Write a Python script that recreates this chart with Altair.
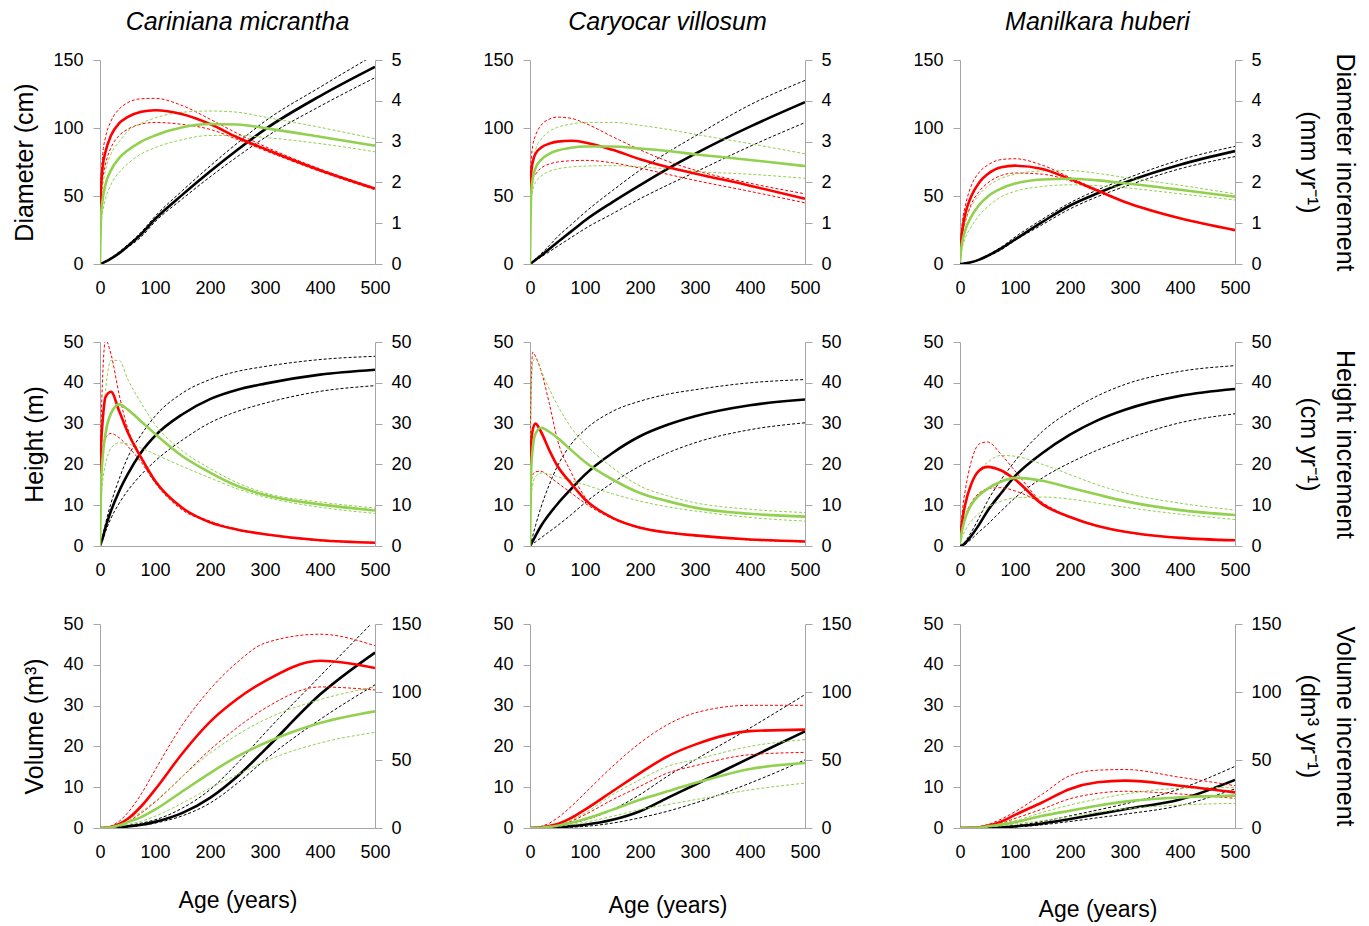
import altair as alt
import pandas as pd

AGE = [0, 2, 5, 10, 20, 35, 50, 75, 100, 150, 200, 250, 300, 400, 500]
SPECIES = ["Cariniana micrantha", "Caryocar villosum", "Manilkara huberi"]
X_TICKS = [0, 100, 200, 300, 400, 500]

# ---- Diameter row: cumulative (cm, left) and increments (mm/yr, right)
D_CM = {
    "cum_lo": [0, 0.3, 0.8, 1.7, 3.8, 7.5, 12, 20, 31, 48, 64, 79, 93, 116, 137],
    "cum_hi": [0, 0.3, 0.9, 2, 4.5, 9, 14, 23.5, 35, 54, 72, 89, 105, 130, 154],
    "cum": [0, 0.3, 0.8, 1.8, 4, 8, 13, 22, 33, 51, 68, 84, 99, 123.5, 145],
    "red_lo": [1.2, 1.7, 2.1, 2.45, 2.85, 3.15, 3.3, 3.43, 3.47, 3.42, 3.3, 3.05, 2.78, 2.27, 1.82],
    "red_hi": [1.2, 2.1, 2.7, 3.1, 3.5, 3.8, 3.95, 4.05, 4.06, 3.88, 3.55, 3.2, 2.88, 2.33, 1.87],
    "grn_lo": [0, 1.0, 1.3, 1.6, 1.95, 2.25, 2.45, 2.7, 2.85, 3.05, 3.15, 3.15, 3.1, 2.95, 2.75],
    "grn_hi": [0, 1.4, 1.9, 2.3, 2.7, 3.0, 3.25, 3.45, 3.58, 3.72, 3.75, 3.72, 3.6, 3.35, 3.07],
    "red": [1.2, 1.9, 2.4, 2.75, 3.15, 3.45, 3.6, 3.73, 3.77, 3.67, 3.43, 3.1, 2.82, 2.3, 1.85],
    "grn": [0, 1.2, 1.6, 1.95, 2.3, 2.6, 2.78, 3.0, 3.15, 3.35, 3.43, 3.42, 3.33, 3.12, 2.9],
}
D_CV = {
    "cum_lo": [0, 0.5, 1.3, 2.6, 5.2, 9, 13, 19.5, 26, 37, 48, 58, 67.5, 86.5, 104],
    "cum_hi": [0, 0.8, 2, 3.8, 7.5, 13.5, 20, 29, 38, 54, 69, 82, 94, 117, 135],
    "cum": [0, 0.6, 1.5, 3, 6, 11, 16, 24, 32, 45.5, 58, 70, 81, 101, 119],
    "red_lo": [1.6, 1.9, 2.1, 2.2, 2.35, 2.45, 2.5, 2.53, 2.54, 2.48, 2.35, 2.2, 2.05, 1.78, 1.5],
    "red_hi": [1.6, 2.5, 2.9, 3.15, 3.4, 3.55, 3.6, 3.57, 3.45, 3.12, 2.8, 2.52, 2.3, 1.98, 1.72],
    "grn_lo": [0, 1.5, 1.8, 2.0, 2.15, 2.27, 2.33, 2.38, 2.4, 2.41, 2.38, 2.33, 2.27, 2.2, 2.1],
    "grn_hi": [0, 2.0, 2.5, 2.8, 3.05, 3.25, 3.35, 3.43, 3.47, 3.47, 3.4, 3.3, 3.18, 2.95, 2.7],
    "red": [1.6, 2.2, 2.5, 2.7, 2.85, 2.95, 3.0, 3.02, 2.98, 2.8, 2.57, 2.38, 2.22, 1.92, 1.6],
    "grn": [0, 1.7, 2.1, 2.35, 2.55, 2.7, 2.78, 2.85, 2.88, 2.88, 2.83, 2.77, 2.69, 2.55, 2.4],
}
D_MH = {
    "cum_lo": [0, 0.05, 0.2, 0.45, 1.2, 3, 5.5, 10.5, 17.3, 29, 40.5, 49.5, 57, 70, 79],
    "cum_hi": [0, 0.05, 0.2, 0.55, 1.4, 3.5, 6.5, 12.5, 19.8, 33, 45, 54.5, 62.5, 76.5, 86.5],
    "cum": [0, 0.05, 0.2, 0.5, 1.3, 3.2, 6, 11.5, 18, 31, 43, 52, 60, 73, 83],
    "red_lo": [0.2, 0.45, 0.75, 1.05, 1.45, 1.78, 1.98, 2.17, 2.23, 2.2, 2.04, 1.78, 1.51, 1.12, 0.83],
    "red_hi": [0.2, 0.7, 1.1, 1.45, 1.9, 2.25, 2.42, 2.56, 2.58, 2.42, 2.12, 1.82, 1.53, 1.12, 0.83],
    "grn_lo": [0.05, 0.25, 0.45, 0.65, 0.9, 1.2, 1.4, 1.65, 1.78, 1.9, 1.94, 1.92, 1.87, 1.72, 1.57],
    "grn_hi": [0.05, 0.45, 0.75, 1.05, 1.4, 1.7, 1.9, 2.1, 2.2, 2.28, 2.29, 2.22, 2.12, 1.93, 1.72],
    "red": [0.2, 0.55, 0.9, 1.25, 1.65, 2.0, 2.2, 2.37, 2.41, 2.33, 2.08, 1.8, 1.52, 1.12, 0.83],
    "grn": [0.05, 0.35, 0.6, 0.85, 1.15, 1.45, 1.65, 1.85, 1.97, 2.07, 2.09, 2.05, 1.98, 1.82, 1.65],
}

# ---- Height row: cumulative (m, left) and increments (cm/yr, right)
H_CM = {
    "cum_lo": [0, 0.6, 1.6, 3.5, 6.8, 10.5, 13.5, 17.5, 20.8, 26, 30.2, 33, 35, 37.9, 39.3],
    "cum_hi": [0, 1, 2.6, 5.5, 10.5, 16.5, 21.6, 27.3, 31.8, 37.5, 40.8, 42.8, 44, 45.7, 46.5],
    "cum": [0, 0.8, 2, 4.5, 8.6, 13.5, 17.5, 23, 27, 32.3, 36, 38.3, 39.8, 42, 43.2],
    "red_lo": [18, 21, 24, 26.5, 27.6, 26.5, 24.5, 20.5, 15.5, 8.8, 5.9, 3.9, 2.8, 1.3, 0.8],
    "red_hi": [18, 30, 42, 50.5, 47, 37, 29, 22, 16.3, 9.2, 6.1, 4.1, 2.9, 1.4, 0.9],
    "grn_lo": [0, 11, 16, 20, 24, 25.3, 25, 24, 22.5, 19.5, 16.7, 14, 12, 9.5, 8],
    "grn_hi": [0, 20, 30, 38, 45.5, 45.5, 41, 35, 29.8, 23.3, 19, 15.5, 13, 10.8, 9.3],
    "red": [18, 25, 31, 36.5, 37.8, 33, 28, 21.6, 16, 9.3, 5.8, 4, 2.9, 1.4, 0.8],
    "grn": [0, 15, 22, 27.5, 32.5, 34.7, 33.5, 30.5, 27.5, 22, 18, 14.7, 12.5, 10.2, 8.7],
}
H_CV = {
    "cum_lo": [0, 0.2, 0.5, 1, 2, 3.5, 5, 7.7, 10.6, 15.5, 19.6, 22.8, 25.3, 28.5, 30.2],
    "cum_hi": [0, 1, 2.5, 5, 9.5, 15, 19.6, 25, 28.5, 33, 35.5, 37.2, 38.3, 40, 40.8],
    "cum": [0, 0.5, 1.2, 2.5, 4.9, 7.8, 10.3, 14, 17.5, 22.8, 26.9, 29.7, 31.8, 34.5, 35.9],
    "red_lo": [15, 16, 17.5, 18.2, 18.3, 17, 15.5, 13, 10.5, 6.7, 4.4, 3.2, 2.5, 1.5, 1.0],
    "red_hi": [20, 38, 47.5, 46.5, 43, 35, 26, 18, 12, 7, 4.6, 3.4, 2.6, 1.6, 1.1],
    "grn_lo": [0, 12, 15, 17, 17.9, 17.6, 17, 16, 15, 12.8, 11, 9.6, 8.6, 7, 6.1],
    "grn_hi": [0, 35, 45, 46, 43, 38.5, 34.5, 29, 25, 19.2, 14.7, 12.3, 10.6, 9, 8.2],
    "red": [20, 25, 28.5, 30, 28, 23.5, 19.6, 15.3, 11.4, 6.9, 4.5, 3.3, 2.6, 1.6, 1.1],
    "grn": [0, 18, 24, 27.5, 29, 28, 26.5, 23.5, 20.6, 16.3, 13, 11, 9.4, 7.9, 7.2],
}
H_MH = {
    "cum_lo": [0, 0.03, 0.15, 0.5, 1.6, 3.5, 5.3, 8.6, 11.8, 16.7, 20.4, 23.5, 26.1, 30.2, 32.4],
    "cum_hi": [0, 0.05, 0.3, 1.2, 3.3, 7, 11, 16.3, 20.8, 28.1, 33, 36.8, 39.6, 42.8, 44.2],
    "cum": [0, 0.05, 0.2, 0.8, 2.4, 5.3, 8.6, 13, 17.1, 22.8, 27.3, 30.8, 33.4, 36.8, 38.5],
    "red_lo": [2, 3.2, 5, 7.5, 10.5, 13, 14, 14.3, 13.5, 10.5, 7, 4.8, 3.4, 2, 1.4],
    "red_hi": [2, 5, 9.5, 14, 20.5, 25, 25.5, 22.4, 18.4, 10.6, 7.2, 5, 3.5, 2, 1.4],
    "grn_lo": [0.5, 1.5, 2.5, 4, 6, 8, 9.5, 11, 11.8, 12, 11.5, 10.5, 9.5, 7.8, 6.5],
    "grn_hi": [0.5, 3.5, 6.5, 10, 15, 18.5, 20.5, 22.2, 22, 20, 17.5, 15, 13, 10.5, 8.8],
    "red": [2, 4, 7, 10.5, 15, 18.5, 19.4, 18.5, 16.3, 10.2, 7.1, 4.9, 3.5, 2, 1.4],
    "grn": [0.5, 2.5, 4.5, 7, 10, 12.5, 14, 15.8, 16.7, 16, 14.3, 12.6, 11, 8.8, 7.6],
}

# ---- Volume row: cumulative (m3, left) and increments (dm3/yr, right)
V_CM = {
    "cum_lo": [0, 0, 0, 0, 0.03, 0.1, 0.3, 0.6, 1.2, 3, 6.1, 11, 16.7, 26.6, 35.1],
    "cum_hi": [0, 0, 0, 0, 0.05, 0.3, 0.6, 1.2, 2, 4.9, 9.4, 15.9, 23.3, 37.2, 51],
    "cum": [0, 0, 0, 0, 0.05, 0.15, 0.4, 0.8, 1.5, 3.7, 7.4, 12.7, 19.2, 32.7, 43],
    "red_lo": [0, 0, 0, 0.1, 0.5, 2, 4.5, 11, 19, 38, 57.5, 74, 88, 103.7, 101.5],
    "red_hi": [0, 0, 0, 0.3, 1.5, 5, 11, 25, 42.5, 76, 102, 122, 136, 142.5, 134],
    "grn_lo": [0, 0, 0, 0.05, 0.3, 1.2, 2.5, 5, 8.6, 18.4, 29.4, 39.2, 49, 62.5, 70.3],
    "grn_hi": [0, 0, 0, 0.1, 0.6, 2.5, 6, 12, 19.6, 38, 55, 68.6, 79.7, 94.4, 103.7],
    "red": [0, 0, 0, 0.2, 0.8, 3, 6.6, 16, 28.2, 55, 78, 95, 108, 123, 117.6],
    "grn": [0, 0, 0, 0.1, 0.5, 2, 4.2, 8, 13.5, 27, 40.4, 52.7, 62.5, 77.2, 85.8],
}
V_CV = {
    "cum_lo": [0, 0, 0, 0, 0, 0.05, 0.1, 0.2, 0.4, 1.2, 2.5, 4.1, 6.1, 11, 16.7],
    "cum_hi": [0, 0, 0, 0, 0.05, 0.2, 0.6, 1.2, 2, 4.5, 8.2, 12.7, 16.7, 24.5, 32.7],
    "cum": [0, 0, 0, 0, 0, 0.05, 0.2, 0.45, 0.8, 2, 4.1, 7.4, 10.6, 17.2, 23.7],
    "red_lo": [0, 0, 0, 0.05, 0.2, 0.8, 1.7, 5, 9.8, 20.8, 30.6, 40.4, 45.8, 53.9, 55.6],
    "red_hi": [0, 0, 0, 0.2, 1.2, 3.5, 7.4, 15.9, 25.7, 45.3, 62.5, 76, 84.6, 90.2, 90.2],
    "grn_lo": [0, 0, 0, 0.02, 0.1, 0.5, 1.2, 2.5, 4.2, 8.6, 13.5, 17.2, 20.8, 28, 33],
    "grn_hi": [0, 0, 0, 0.05, 0.3, 1.2, 2.5, 6, 11, 24.5, 35.5, 45.3, 50.2, 60, 65],
    "red": [0, 0, 0, 0.1, 0.5, 1.5, 2.9, 7.4, 13.5, 27, 40.4, 52.7, 61.3, 71.2, 72.3],
    "grn": [0, 0, 0, 0.05, 0.2, 0.8, 1.7, 3.8, 6.6, 13.5, 20.8, 27, 33, 43.4, 47.8],
}
V_MH = {
    "cum_lo": [0, 0, 0, 0, 0, 0, 0.03, 0.1, 0.25, 0.8, 1.6, 2.5, 3.4, 5.5, 9.6],
    "cum_hi": [0, 0, 0, 0, 0, 0, 0.1, 0.3, 0.6, 1.6, 3, 4.4, 5.9, 9.6, 15.1],
    "cum": [0, 0, 0, 0, 0, 0, 0.05, 0.15, 0.4, 1.1, 2.2, 3.4, 4.6, 7, 11.8],
    "red_lo": [0, 0, 0, 0, 0.05, 0.4, 1, 3.5, 7, 14, 21.5, 25.5, 27, 25, 21.8],
    "red_hi": [0, 0, 0, 0, 0.2, 0.9, 2.5, 6.5, 12, 25, 38.5, 42.5, 43, 37.3, 31.1],
    "grn_lo": [0, 0, 0, 0, 0.02, 0.2, 0.7, 1.6, 2.9, 5.4, 8.6, 11.5, 14, 16.9, 18.1],
    "grn_hi": [0, 0, 0, 0, 0.1, 0.6, 1.7, 3.5, 5.4, 11.5, 16.9, 21.3, 25, 29.2, 29.9],
    "red": [0, 0, 0, 0, 0.1, 0.6, 1.7, 4.7, 9.6, 18.9, 28.7, 33.6, 34.8, 31.1, 26.2],
    "grn": [0, 0, 0, 0, 0.05, 0.4, 1.2, 2.5, 4.2, 9, 12.7, 16.4, 19.4, 22.5, 23.8],
}

PANELS = [[D_CM, D_CV, D_MH], [H_CM, H_CV, H_MH], [V_CM, V_CV, V_MH]]
LEFT_TITLES = ["Diameter (cm)", "Height (m)", "Volume (m³)"]
RIGHT_TITLES = [["Diameter increment", "(mm yr⁻¹)"],
                ["Height increment", "(cm yr⁻¹)"],
                ["Volume increment", "(dm³ yr⁻¹)"]]
LEFT_MAX = [150, 50, 50]
LEFT_TICKS = [[0, 50, 100, 150], [0, 10, 20, 30, 40, 50], [0, 10, 20, 30, 40, 50]]
RIGHT_MAX = [5, 50, 150]
RIGHT_TICKS = [[0, 1, 2, 3, 4, 5], [0, 10, 20, 30, 40, 50], [0, 50, 100, 150]]
XTITLE_PAD = [28, 33, 37]
RTITLE_PAD = [34, 24, 14]
HSPACE = [80, 80, 70]

RED = "#ff0000"
GREEN = "#92d050"
BLACK = "#000000"
FONT = "Liberation Sans"
GREY = "#a6a6a6"

STYLE = {
    "cum_lo": (BLACK, 1.0, [3, 2]), "cum_hi": (BLACK, 1.0, [3, 2]), "cum": (BLACK, 2.6, None),
    "red_lo": (RED, 1.0, [3, 2]), "red_hi": (RED, 1.0, [3, 2]),
    "grn_lo": (GREEN, 1.0, [3, 2]), "grn_hi": (GREEN, 1.0, [3, 2]),
    "red": (RED, 2.6, None), "grn": (GREEN, 2.6, None),
}


def panel(r, c):
    p = PANELS[r][c]
    xaxis = alt.Axis(values=X_TICKS, ticks=False, grid=False, labelFlush=False,
                     title="Age (years)" if r == 2 else None,
                     titlePadding=XTITLE_PAD[c], labelPadding=15, titleFontSize=23)
    lscale = alt.Scale(domain=[0, LEFT_MAX[r]], nice=False, zero=True)
    rscale = alt.Scale(domain=[0, RIGHT_MAX[r]], nice=False, zero=True)
    laxis = alt.Axis(values=LEFT_TICKS[r], orient="left", grid=False, labelPadding=10,
                     labelFlush=False,
                     title=LEFT_TITLES[r] if c == 0 else None, titlePadding=15)
    raxis = alt.Axis(values=RIGHT_TICKS[r], orient="right", grid=False, labelPadding=9,
                     labelFlush=False,
                     title=RIGHT_TITLES[r] if c == 2 else None, titlePadding=RTITLE_PAD[r],
                     titleLineHeight=36)
    left_layers, right_layers = [], []
    for key, vals in p.items():
        color, width, dash = STYLE[key]
        df = pd.DataFrame({"age": AGE, "v": vals})
        mk = dict(color=color, strokeWidth=width, interpolate="monotone", clip=True)
        if dash:
            mk["strokeDash"] = dash
        is_left = key.startswith("cum")
        ch = alt.Chart(df).mark_line(**mk).encode(
            x=alt.X("age:Q", scale=alt.Scale(domain=[0, 500], nice=False), axis=xaxis),
            y=alt.Y("v:Q", scale=lscale if is_left else rscale,
                    axis=laxis if is_left else raxis),
        )
        (left_layers if is_left else right_layers).append(ch)
    lay = alt.layer(alt.layer(*left_layers), alt.layer(*right_layers)).resolve_scale(y="independent")
    props = dict(width=275, height=204)
    if r == 0:
        props["title"] = alt.TitleParams(SPECIES[c], fontStyle="italic", fontSize=25, font=FONT,
                                         fontWeight="normal", anchor="middle", frame="group",
                                         offset=16, color="black")
    return lay.properties(**props)


rows = [alt.hconcat(*[panel(r, c) for c in range(3)], spacing=HSPACE[r]) for r in range(3)]
chart = alt.vconcat(*rows, spacing=36).configure_view(stroke=None).configure_axis(
    labelFont=FONT, labelFontSize=18, labelColor="black",
    titleFont=FONT, titleFontSize=25, titleFontWeight="normal", titleColor="black",
    domainColor=GREY, tickColor=GREY, tickSize=7,
).properties(padding={"left": 12, "top": 10, "right": 2, "bottom": 2}, background="white")

chart.save("out.html", embed_options={"renderer": "svg", "actions": False})
